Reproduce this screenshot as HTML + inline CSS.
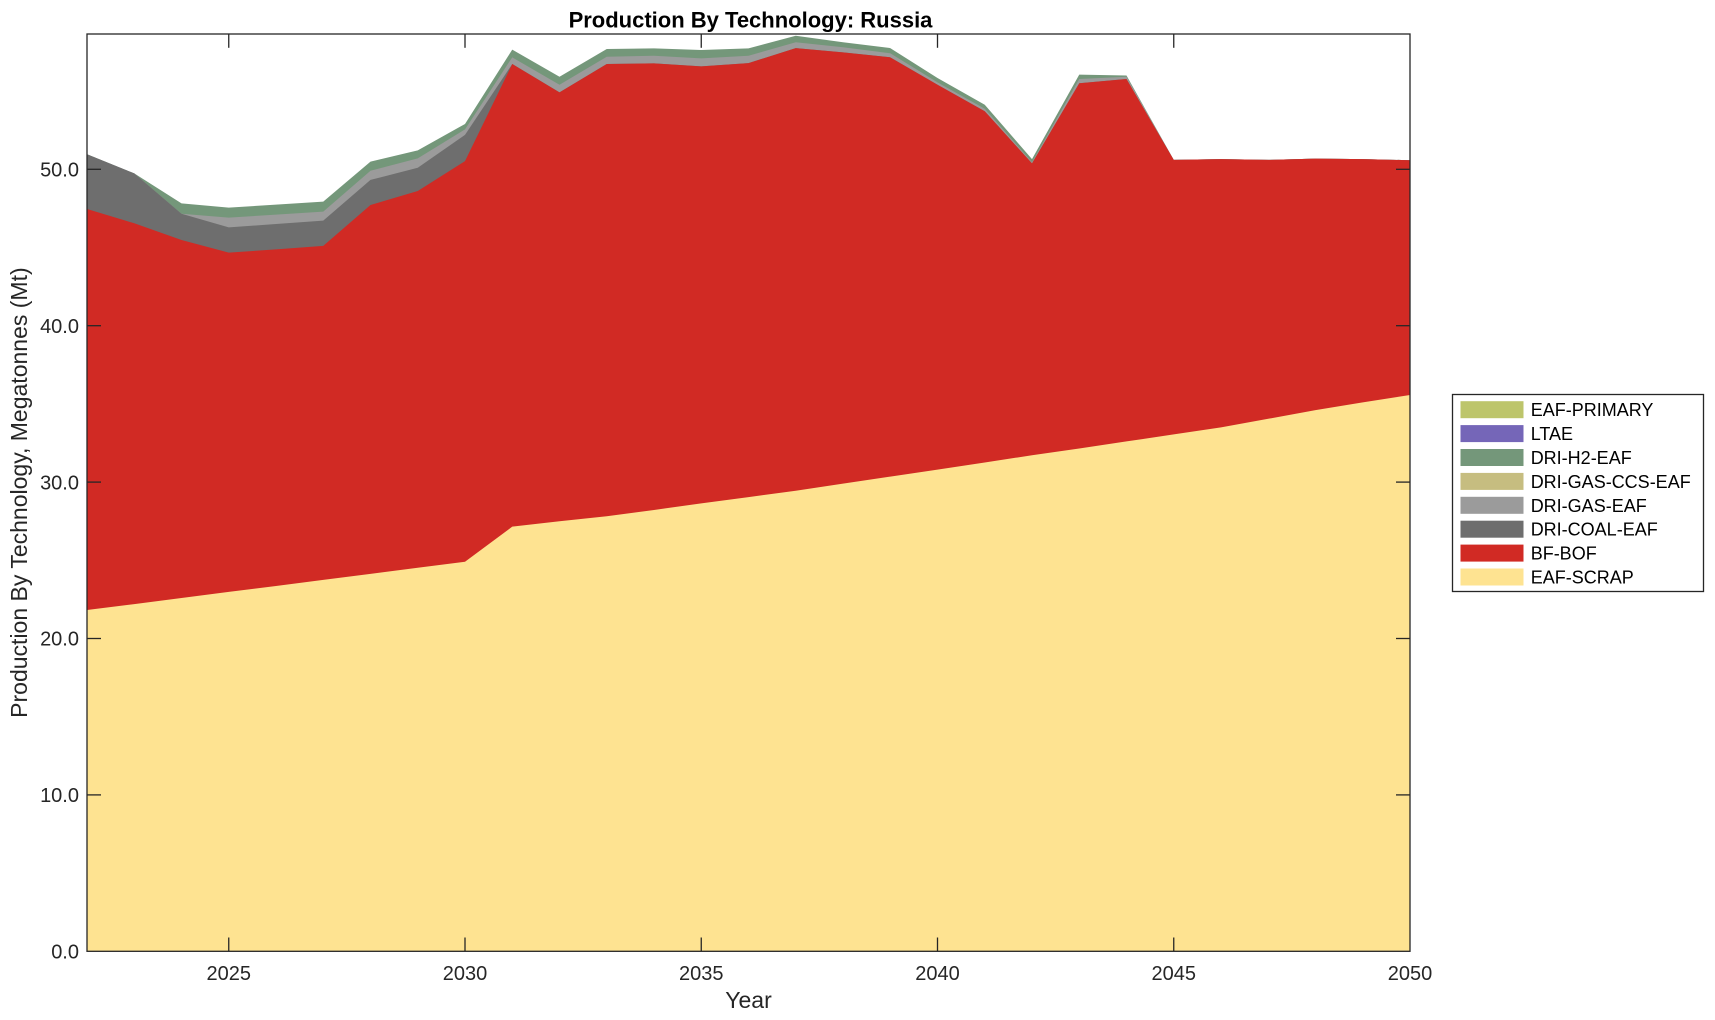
<!DOCTYPE html>
<html>
<head>
<meta charset="utf-8">
<style>
  html, body { margin: 0; padding: 0; background: #ffffff; }
  body { width: 1715px; height: 1020px; overflow: hidden; }
  svg { display: block; }
  text { font-family: "Liberation Sans", Arial, Helvetica, sans-serif; fill: #262626; }
</style>
</head>
<body>
<svg width="1715" height="1020" viewBox="0 0 1715 1020" xmlns="http://www.w3.org/2000/svg">
  <rect x="0" y="0" width="1715" height="1020" fill="#ffffff"/>

  <!-- stacked areas: data units (x = year-2022, y = Mt) -->
  <g transform="translate(87,951.3) scale(47.25,-15.64)">
    <!-- DRI-H2-EAF (cumulative top) -->
    <polygon fill="#74977a" points="0,0 0,50.96 1,49.74 2,47.82 3,47.55 4,47.74 5,47.93 6,50.49 7,51.21 8,52.9 9,57.65 10,55.92 11,57.69 12,57.73 13,57.63 14,57.73 15,58.54 16,58.12 17,57.75 18,55.84 19,54.13 20,50.65 21,56.05 22,56.0 23,50.6 24,50.65 25,50.6 26,50.68 27,50.65 28,50.58 28,0"/>
    <!-- DRI-GAS-EAF -->
    <polygon fill="#9b9b9b" points="0,0 0,50.96 1,49.74 2,47.16 3,46.91 4,47.1 5,47.29 6,49.91 7,50.70 8,52.55 9,57.16 10,55.41 11,57.2 12,57.26 13,57.09 14,57.26 15,58.12 16,57.8 17,57.42 18,55.56 19,53.87 20,50.45 21,55.77 22,55.92 23,50.6 24,50.65 25,50.6 26,50.68 27,50.65 28,50.58 28,0"/>
    <!-- DRI-COAL-EAF -->
    <polygon fill="#6e6e6e" points="0,0 0,50.96 1,49.74 2,47.16 3,46.29 4,46.5 5,46.72 6,49.32 7,50.10 8,52.2 9,56.73 10,54.92 11,56.73 12,56.77 13,56.58 14,56.79 15,57.75 16,57.48 17,57.16 18,55.41 19,53.71 20,50.38 21,55.5 22,55.77 23,50.6 24,50.65 25,50.6 26,50.68 27,50.65 28,50.58 28,0"/>
    <!-- BF-BOF -->
    <polygon fill="#d12a24" points="0,0 0,47.46 1,46.55 2,45.48 3,44.67 4,44.88 5,45.10 6,47.72 7,48.61 8,50.52 9,56.73 10,54.92 11,56.73 12,56.77 13,56.58 14,56.79 15,57.75 16,57.48 17,57.16 18,55.41 19,53.71 20,50.38 21,55.5 22,55.77 23,50.6 24,50.65 25,50.6 26,50.68 27,50.65 28,50.58 28,0"/>
    <!-- EAF-SCRAP -->
    <polygon fill="#fee391" points="0,0 0,21.82 1,22.2 2,22.59 3,22.98 4,23.36 5,23.75 6,24.13 7,24.52 8,24.91 9,27.15 10,27.5 11,27.82 12,28.22 13,28.64 14,29.04 15,29.45 16,29.9 17,30.35 18,30.8 19,31.25 20,31.72 21,32.15 22,32.6 23,33.05 24,33.5 25,34.05 26,34.6 27,35.1 28,35.57 28,0"/>
  </g>

  <!-- axes box -->
  <rect x="87" y="34" width="1323" height="917.3" fill="none" stroke="#262626" stroke-width="1.3"/>

  <!-- x ticks -->
  <g stroke="#262626" stroke-width="1.3">
    <line x1="228.75" y1="951.3" x2="228.75" y2="937.5"/>
    <line x1="465" y1="951.3" x2="465" y2="937.5"/>
    <line x1="701.25" y1="951.3" x2="701.25" y2="937.5"/>
    <line x1="937.5" y1="951.3" x2="937.5" y2="937.5"/>
    <line x1="1173.75" y1="951.3" x2="1173.75" y2="937.5"/>
    <line x1="228.75" y1="34" x2="228.75" y2="47.8"/>
    <line x1="465" y1="34" x2="465" y2="47.8"/>
    <line x1="701.25" y1="34" x2="701.25" y2="47.8"/>
    <line x1="937.5" y1="34" x2="937.5" y2="47.8"/>
    <line x1="1173.75" y1="34" x2="1173.75" y2="47.8"/>
    <!-- y ticks -->
    <line x1="87" y1="794.9" x2="101" y2="794.9"/>
    <line x1="87" y1="638.5" x2="101" y2="638.5"/>
    <line x1="87" y1="482.1" x2="101" y2="482.1"/>
    <line x1="87" y1="325.7" x2="101" y2="325.7"/>
    <line x1="87" y1="169.3" x2="101" y2="169.3"/>
    <line x1="1410" y1="794.9" x2="1396" y2="794.9"/>
    <line x1="1410" y1="638.5" x2="1396" y2="638.5"/>
    <line x1="1410" y1="482.1" x2="1396" y2="482.1"/>
    <line x1="1410" y1="325.7" x2="1396" y2="325.7"/>
    <line x1="1410" y1="169.3" x2="1396" y2="169.3"/>
  </g>

  <!-- x tick labels -->
  <g font-size="20" text-anchor="middle">
    <text x="228.75" y="980">2025</text>
    <text x="465" y="980">2030</text>
    <text x="701.25" y="980">2035</text>
    <text x="937.5" y="980">2040</text>
    <text x="1173.75" y="980">2045</text>
    <text x="1410" y="980">2050</text>
  </g>

  <!-- y tick labels -->
  <g font-size="20" text-anchor="end">
    <text x="79" y="958.5">0.0</text>
    <text x="79" y="802.1">10.0</text>
    <text x="79" y="645.7">20.0</text>
    <text x="79" y="489.3">30.0</text>
    <text x="79" y="332.9">40.0</text>
    <text x="79" y="176.5">50.0</text>
  </g>

  <!-- axis labels -->
  <text x="748.5" y="1008" font-size="23" text-anchor="middle">Year</text>
  <text transform="translate(27,492.6) rotate(-90)" x="0" y="0" font-size="23" text-anchor="middle">Production By Technology, Megatonnes (Mt)</text>

  <!-- title -->
  <text x="750.5" y="27.5" font-size="22" font-weight="bold" text-anchor="middle" style="fill:#000">Production By Technology: Russia</text>

  <!-- legend -->
  <rect x="1452.5" y="394.5" width="251" height="197" fill="#ffffff" stroke="#262626" stroke-width="1.3"/>
  <g>
    <rect x="1460.5" y="401.2" width="63" height="17" fill="#bdc56b"/>
    <rect x="1460.5" y="425.1" width="63" height="17" fill="#7566b8"/>
    <rect x="1460.5" y="449.0" width="63" height="17" fill="#74977a"/>
    <rect x="1460.5" y="472.9" width="63" height="17" fill="#c6bd80"/>
    <rect x="1460.5" y="496.8" width="63" height="17" fill="#9b9b9b"/>
    <rect x="1460.5" y="520.7" width="63" height="17" fill="#6e6e6e"/>
    <rect x="1460.5" y="544.6" width="63" height="17" fill="#d12a24"/>
    <rect x="1460.5" y="568.5" width="63" height="17" fill="#fee391"/>
  </g>
  <g font-size="18">
    <text x="1530.7" y="416.2" style="fill:#000">EAF-PRIMARY</text>
    <text x="1530.7" y="440.1" style="fill:#000">LTAE</text>
    <text x="1530.7" y="464.0" style="fill:#000">DRI-H2-EAF</text>
    <text x="1530.7" y="487.9" style="fill:#000">DRI-GAS-CCS-EAF</text>
    <text x="1530.7" y="511.8" style="fill:#000">DRI-GAS-EAF</text>
    <text x="1530.7" y="535.7" style="fill:#000">DRI-COAL-EAF</text>
    <text x="1530.7" y="559.6" style="fill:#000">BF-BOF</text>
    <text x="1530.7" y="583.5" style="fill:#000">EAF-SCRAP</text>
  </g>
</svg>
</body>
</html>
